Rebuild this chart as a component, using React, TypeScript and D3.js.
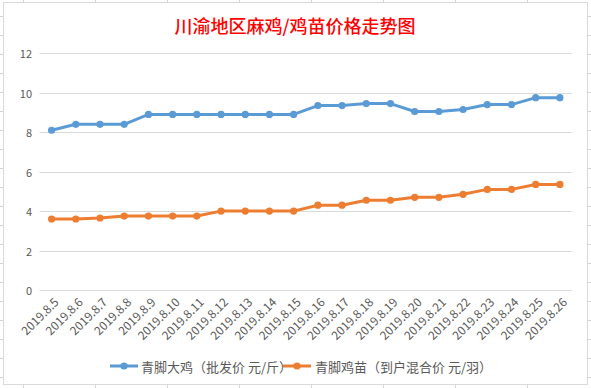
import React from "react";
import * as d3 from "d3";

const title = "川渝地区麻鸡/鸡苗价格走势图";
const dates = [
  "2019.8.5", "2019.8.6", "2019.8.7", "2019.8.8", "2019.8.9", "2019.8.10",
  "2019.8.11", "2019.8.12", "2019.8.13", "2019.8.14", "2019.8.15", "2019.8.16",
  "2019.8.17", "2019.8.18", "2019.8.19", "2019.8.20", "2019.8.21", "2019.8.22",
  "2019.8.23", "2019.8.24", "2019.8.25", "2019.8.26",
];
const chickenPrice = [
  8.1, 8.4, 8.4, 8.4, 8.9, 8.9, 8.9, 8.9, 8.9, 8.9, 8.9, 9.35,
  9.35, 9.45, 9.45, 9.05, 9.05, 9.15, 9.4, 9.4, 9.75, 9.75,
];
const chickPrice = [
  3.6, 3.6, 3.65, 3.75, 3.75, 3.75, 3.75, 4.0, 4.0, 4.0, 4.0, 4.3,
  4.3, 4.55, 4.55, 4.7, 4.7, 4.85, 5.1, 5.1, 5.35, 5.35,
];
const seriesNames = ["青脚大鸡（批发价 元/斤）", "青脚鸡苗（到户混合价 元/羽）"];
const seriesColors = ["#5B9BD5", "#ED7D31"];
const yTicks = [0, 2, 4, 6, 8, 10, 12];

const W = 591;
const H = 388;
const FONT = "'Noto Sans CJK SC', 'Noto Sans', sans-serif";

export default function App() {
  const x = d3.scalePoint<string>().domain(dates).range([39.5, 572]).padding(0.5);
  const y = d3.scaleLinear().domain([0, 12]).range([290, 53.3]);
  const series = [chickenPrice, chickPrice];
  const line = d3
    .line<number>()
    .x((_, i) => x(dates[i]) as number)
    .y((d) => y(d));

  const sheetCols = d3.range(0, 9).map((k) => 23.5 + 72 * k);
  const sheetRows = d3.range(0, 21).map((k) => 16.5 + 19 * k);

  const legendItems = [
    { lx: 110, tx: 141 },
    { lx: 283, tx: 315 },
  ];

  return (
    <svg
      width={W}
      height={H}
      style={{ position: "absolute", left: 0, top: 0, display: "block" }}
      fontFamily={FONT}
    >
      <rect x={0} y={0} width={W} height={H} fill="#fff" />
      {sheetCols.map((c, i) => (
        <line key={"c" + i} x1={c} x2={c} y1={0} y2={H} stroke="#d4d4d4" strokeWidth={1} />
      ))}
      {sheetRows.map((r, i) => (
        <line key={"r" + i} x1={0} x2={W} y1={r} y2={r} stroke="#d4d4d4" strokeWidth={1} />
      ))}
      <rect x={3.5} y={2.5} width={584} height={382} fill="#fff" stroke="#d9d9d9" strokeWidth={1} />

      <text
        x={295}
        y={25}
        textAnchor="middle"
        dominantBaseline="central"
        fill="#FF0000"
        fontSize={18}
        fontWeight={500}
      >
        {title}
      </text>

      {yTicks.map((t) => (
        <g key={t}>
          <line x1={39.5} x2={572} y1={Math.round(y(t)) + 0.5} y2={Math.round(y(t)) + 0.5} stroke="#d9d9d9" strokeWidth={1} />
          <text x={32} y={y(t)} textAnchor="end" dominantBaseline="central" fill="#595959" fontSize={11}>
            {t}
          </text>
        </g>
      ))}

      {dates.map((d) => (
        <text
          key={d}
          transform={`translate(${(x(d) as number) + 5},${300}) rotate(-45)`}
          textAnchor="end"
          dy="0.35em"
          fill="#595959"
          fontSize={12}
        >
          {d}
        </text>
      ))}

      {series.map((s, si) => (
        <g key={si}>
          <path d={line(s) || ""} fill="none" stroke={seriesColors[si]} strokeWidth={3} strokeLinejoin="round" />
          {s.map((v, i) => (
            <circle key={i} cx={x(dates[i]) as number} cy={y(v)} r={3.6} fill={seriesColors[si]} />
          ))}
        </g>
      ))}

      {legendItems.map((it, i) => (
        <g key={i}>
          <line x1={it.lx} x2={it.lx + 28} y1={366} y2={366} stroke={seriesColors[i]} strokeWidth={3} />
          <circle cx={it.lx + 14} cy={366} r={3.6} fill={seriesColors[i]} />
          <text x={it.tx} y={366} dominantBaseline="central" fill="#595959" fontSize={13}>
            {seriesNames[i]}
          </text>
        </g>
      ))}
    </svg>
  );
}
